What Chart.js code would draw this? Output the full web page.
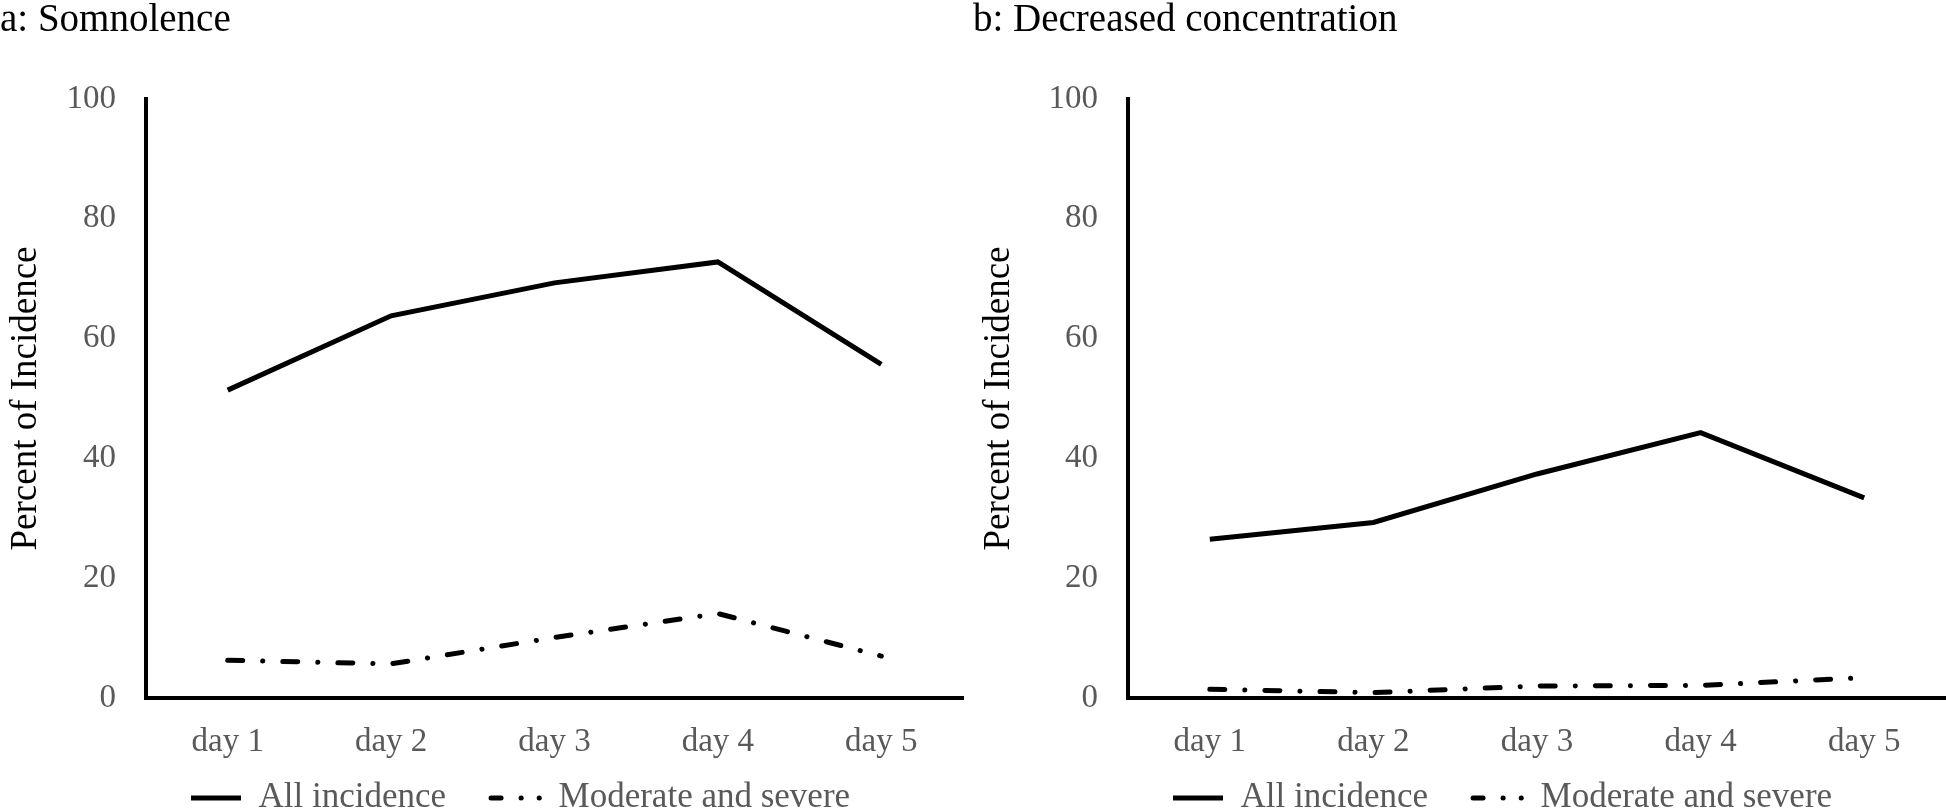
<!DOCTYPE html>
<html>
<head>
<meta charset="utf-8">
<script src="https://cdn.jsdelivr.net/npm/chart.js@4/dist/chart.umd.min.js"></script>
<style>
  html, body { margin: 0; padding: 0; background: #ffffff; overflow: hidden; width: 1946px; height: 812px; }
  canvas { position: absolute; top: 0; }
  #cA { left: 0; }
  #cB { left: 973px; }
</style>
</head>
<body>
<canvas id="cA" width="973" height="876"></canvas>
<canvas id="cB" width="973" height="876"></canvas>
<script>
// ---- data ----
const categories = ['day 1', 'day 2', 'day 3', 'day 4', 'day 5'];
const seriesNames = ['All incidence', 'Moderate and severe'];
const yTicks = [0, 20, 40, 60, 80, 100];

const titleA = 'a: Somnolence';
const allIncidenceA = [51.4, 63.8, 69.3, 72.8, 55.7];
const moderateSevereA = [6.3, 5.7, 10.1, 14.1, 7.0];

const titleB = 'b: Decreased concentration';
const allIncidenceB = [26.5, 29.3, 37.4, 44.3, 33.4];
const moderateSevereB = [1.45, 0.9, 2.0, 2.1, 3.4];

const yAxisTitle = 'Percent of Incidence';

// ---- styles ----
const FONT = "'Liberation Serif', 'Times New Roman', serif";
const GREY = '#595959';

// moves the legend box up so it sits just under the category labels
const legendLift = {
  id: 'legendLift',
  afterLayout(chart, args, opts) {
    const lg = chart.legend;
    if (!lg || !opts || !opts.dy) return;
    lg.top += opts.dy;
    lg.bottom += opts.dy;
  }
};

function makeChart(canvasId, title, allVals, modVals, yWidth, padRight) {
  return new Chart(document.getElementById(canvasId), {
    type: 'line',
    plugins: [legendLift],
    data: {
      labels: categories,
      datasets: [
        {
          label: seriesNames[0],
          data: allVals,
          borderColor: '#000000',
          backgroundColor: '#000000',
          borderWidth: 5,
          pointRadius: 0,
          tension: 0,
          fill: false,
          borderCapStyle: 'butt'
        },
        {
          label: seriesNames[1],
          data: modVals,
          borderColor: '#000000',
          backgroundColor: '#000000',
          borderWidth: 5,
          pointRadius: 0,
          tension: 0,
          fill: false,
          borderCapStyle: 'round',
          borderDash: [15, 20, 0.1, 20]
        }
      ]
    },
    options: {
      responsive: false,
      animation: false,
      events: [],
      layout: { padding: { left: 0, right: padRight, top: 0, bottom: 0 } },
      plugins: {
        legendLift: { dy: -50.5 },
        title: {
          display: true,
          text: title,
          align: 'start',
          color: '#000000',
          font: { family: FONT, size: 39, weight: 'normal', lineHeight: 1.0 },
          padding: { top: 1, bottom: 59 }
        },
        legend: {
          display: true,
          position: 'bottom',
          align: 'start',
          fullSize: false,
          labels: {
            usePointStyle: true,
            pointStyle: 'line',
            pointStyleWidth: 50,
            boxHeight: 35,
            padding: 45,
            color: GREY,
            font: { family: FONT, size: 35, lineHeight: 1.0 },
            generateLabels: function (chart) {
              const items = Chart.defaults.plugins.legend.labels.generateLabels(chart);
              items.forEach(function (it, i) {
                it.pointStyle = 'line';
                it.lineWidth = 5;
                it.strokeStyle = '#000000';
                if (i === 1) {
                  it.lineDash = [10, 20, 0.1, 18, 0.1, 100];
                  it.lineCap = 'round';
                } else {
                  it.lineDash = [];
                  it.lineCap = 'butt';
                }
              });
              return items;
            }
          }
        },
        tooltip: { enabled: false }
      },
      scales: {
        x: {
          type: 'category',
          offset: true,
          grid: { display: false, drawTicks: false },
          border: { display: true, color: '#000000', width: 4 },
          ticks: {
            color: GREY,
            padding: 27.5,
            font: { family: FONT, size: 33, lineHeight: 1.0 },
            maxRotation: 0,
            autoSkip: false
          }
        },
        y: {
          min: 0,
          max: 100,
          afterBuildTicks: function (scale) { scale.ticks = yTicks.map(function (v) { return { value: v }; }); },
          grid: { display: false, drawTicks: false },
          border: { display: true, color: '#000000', width: 4 },
          ticks: {
            color: GREY,
            padding: 30,
            font: { family: FONT, size: 33, lineHeight: 1.0 }
          },
          title: {
            display: true,
            text: yAxisTitle,
            color: '#000000',
            font: { family: FONT, size: 37, lineHeight: 1.0 },
            padding: { top: 8, bottom: 0 }
          },
          afterFit: function (scale) { scale.width = yWidth; }
        }
      }
    }
  });
}

makeChart('cA', titleA, allIncidenceA, moderateSevereA, 146, 10);
makeChart('cB', titleB, allIncidenceB, moderateSevereB, 155, 0);
</script>
</body>
</html>
